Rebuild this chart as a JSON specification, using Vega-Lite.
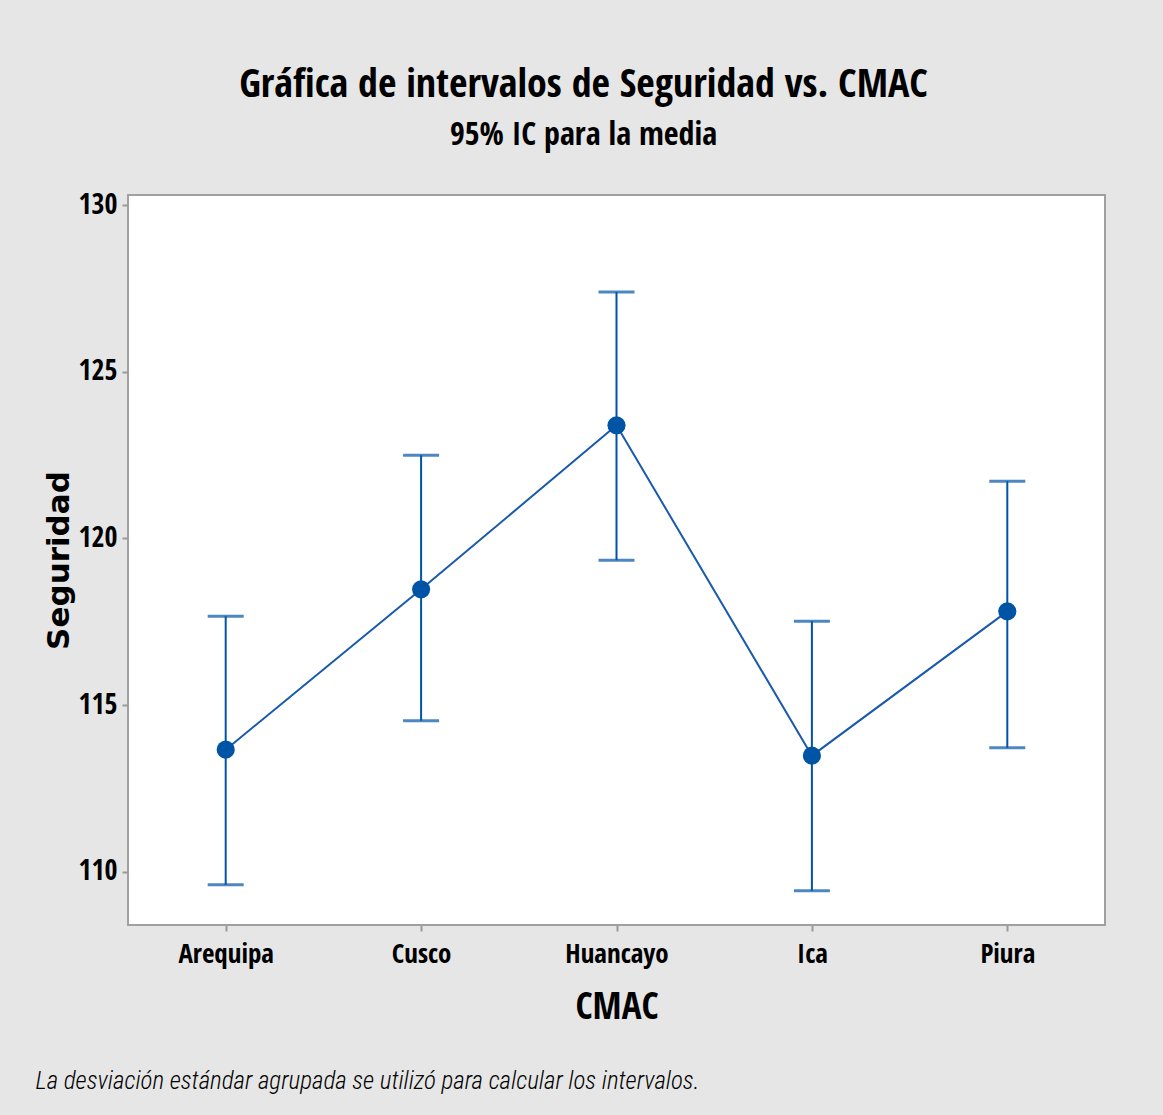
{
  "$schema": "https://vega.github.io/schema/vega-lite/v6.json",
  "width": 977,
  "height": 730,
  "autosize": {"type": "none"},
  "padding": {"left": 128, "top": 195, "right": 58, "bottom": 190},
  "background": "#e6e6e6",
  "title": {
    "text": "Gráfica de intervalos de Seguridad vs. CMAC",
    "subtitle": "95% IC para la media",
    "anchor": "middle",
    "dx": -33,
    "font": "Open Sans Condensed",
    "subtitleFont": "Open Sans Condensed",
    "fontSize": 40,
    "subtitleFontSize": 32,
    "fontWeight": "bold",
    "subtitleFontWeight": "bold",
    "color": "#000000",
    "subtitleColor": "#000000",
    "offset": 40,
    "subtitlePadding": 15
  },
  "config": {
    "view": {"fill": "#ffffff", "stroke": "#a0a0a0", "strokeWidth": 2},
    "axis": {
      "grid": false,
      "domain": false,
      "tickColor": "#9a9a9a",
      "tickWidth": 2,
      "tickSize": 6,
      "labelFont": "Open Sans Condensed",
      "labelFontSize": 28,
      "labelFontWeight": "bold",
      "labelColor": "#000000",
      "titleColor": "#000000"
    }
  },
  "data": {
    "values": [
      {"CMAC": "Arequipa", "mean": 113.66, "lower": 109.61, "upper": 117.66},
      {"CMAC": "Cusco", "mean": 118.47, "lower": 114.53, "upper": 122.49},
      {"CMAC": "Huancayo", "mean": 123.39, "lower": 119.34, "upper": 127.39},
      {"CMAC": "Ica", "mean": 113.48, "lower": 109.43, "upper": 117.51},
      {"CMAC": "Piura", "mean": 117.81, "lower": 113.72, "upper": 121.71}
    ]
  },
  "layer": [
    {
      "encoding": {
        "x": {
          "field": "CMAC",
          "type": "nominal",
          "sort": null,
          "scale": {"type": "point", "padding": 0.5},
          "axis": {
            "orient": "bottom",
            "labelAngle": 0,
            "labelPadding": 10,
            "labelFontSize": 27,
            "title": "CMAC",
            "titleFont": "Open Sans Condensed",
            "titleFontSize": 37,
            "titleFontWeight": "bold",
            "titlePadding": 22
          }
        }
      },
      "layer": [
        {
          "mark": {"type": "rule", "color": "#0054a6", "strokeWidth": 2},
          "encoding": {
            "y": {
              "field": "lower",
              "type": "quantitative",
              "scale": {"domain": [108.4, 130.3], "nice": false, "zero": false},
              "axis": {
                "values": [110, 115, 120, 125, 130],
                "labelPadding": 5,
                "title": "Seguridad",
                "titleFont": "DejaVu Sans",
                "titleFontSize": 31,
                "titleFontWeight": "bold",
                "titlePadding": 3
              }
            },
            "y2": {"field": "upper"}
          }
        },
        {
          "mark": {"type": "tick", "orient": "horizontal", "size": 36, "thickness": 3, "color": "#0054a6"},
          "encoding": {"y": {"field": "upper", "type": "quantitative"}}
        },
        {
          "mark": {"type": "tick", "orient": "horizontal", "size": 36, "thickness": 3, "color": "#0054a6"},
          "encoding": {"y": {"field": "lower", "type": "quantitative"}}
        },
        {
          "mark": {"type": "line", "color": "#1a5aab", "strokeWidth": 2},
          "encoding": {"y": {"field": "mean", "type": "quantitative"}}
        },
        {
          "mark": {"type": "point", "filled": true, "opacity": 1, "size": 330, "color": "#0054a6"},
          "encoding": {"y": {"field": "mean", "type": "quantitative"}}
        }
      ]
    },
    {
      "mark": {"type": "point", "opacity": 0},
      "encoding": {
        "x": {
          "field": "CMAC",
          "type": "nominal",
          "sort": null,
          "scale": {"type": "point", "padding": 0.5},
          "axis": {
            "orient": "bottom",
            "labels": false,
            "ticks": false,
            "domain": false,
            "title": "La desviación estándar agrupada se utilizó para calcular los intervalos.",
            "titleFont": "Roboto Condensed",
            "titleFontSize": 25,
            "titleFontStyle": "italic",
            "titleFontWeight": 300,
            "titleAnchor": "start",
            "titleAlign": "left",
            "titleBaseline": "alphabetic",
            "titleX": -93,
            "titleY": 163
          }
        },
        "y": {"field": "mean", "type": "quantitative"}
      }
    }
  ],
  "resolve": {"scale": {"x": "independent"}}
}
